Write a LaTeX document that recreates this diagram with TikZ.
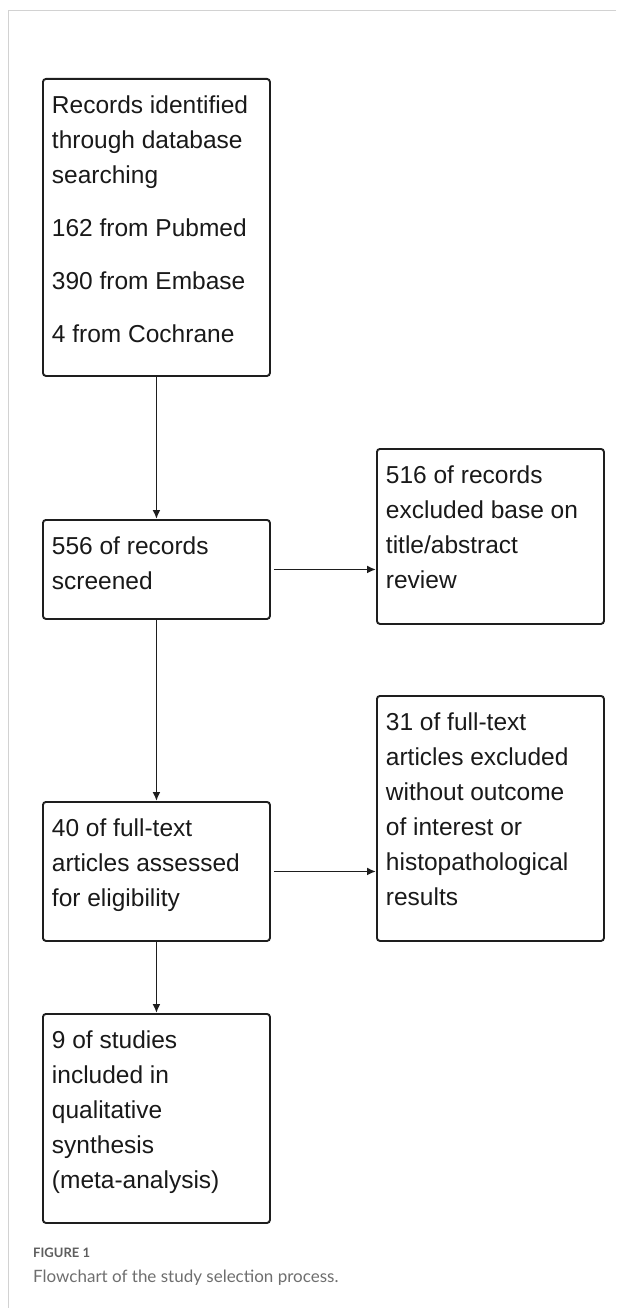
\documentclass[tikz,border=0pt]{standalone}
\usepackage{fontspec}
\setmainfont{Liberation Sans}
\newfontfamily\captionfont{Lato}
\usepackage{tikz}
\usetikzlibrary{arrows.meta}
\usepackage{xcolor}
\definecolor{FlowInk}{HTML}{1E1E1E}
\definecolor{FlowFrame}{HTML}{D2D2D2}
\definecolor{FlowCaption}{HTML}{6E6E6E}
\newcommand{\stagetext}[2]{\parbox[c][#1][t]{209pt}{\raggedright\fontsize{24.5}{35}\selectfont\rule{0pt}{35pt}#2}}

\begin{document}
\begin{tikzpicture}[x=1pt,y=-1pt,>={Latex[length=9pt,width=8pt]},
  stage/.style={draw=FlowInk,line width=1.9pt,rounded corners=3pt,anchor=north west,
    inner xsep=9pt,inner ysep=0pt,text=black!90},
  flow/.style={->,draw=FlowInk,line width=1.9pt}]
  \useasboundingbox (0,0) rectangle (616,1308);
  \draw[FlowFrame,line width=1pt] (616,11) -- (8.5,11) -- (8.5,1308);

  \node[stage] (ident) at (42,78) {\stagetext{297pt}{Records identified\\through database\\searching\\[18pt]162 from Pubmed\\[18pt]390 from Embase\\[18pt]4 from Cochrane}};
  \node[stage] (screen) at (42,519) {\stagetext{99pt}{556 of records\\screened}};
  \node[stage] (dropabs) at (376,448) {\stagetext{175pt}{516 of records\\excluded base on\\title/abstract\\review}};
  \node[stage] (dropfull) at (376,695) {\stagetext{245pt}{31 of full-text\\articles excluded\\without outcome\\of interest or\\histopathological\\results}};
  \node[stage] (elig) at (42,801) {\stagetext{139pt}{40 of full-text\\articles assessed\\for eligibility}};
  \node[stage] (incl) at (42,1013) {\stagetext{209pt}{9 of studies\\included in\\qualitative\\synthesis\\(meta-analysis)}};

  \draw[flow] (ident) -- (screen);
  \draw[flow] (screen) -- (elig);
  \draw[flow] (elig) -- (incl);
  \draw[flow,shorten <=3pt] (screen.east) -- (screen.east -| dropabs.west);
  \draw[flow,shorten <=3pt] (elig.east) -- (elig.east -| dropfull.west);

  \node[anchor=base west,text=FlowCaption!85!black,font=\captionfont\bfseries\fontsize{13}{15}\selectfont,inner sep=0pt] (figlabel) at (33,1257) {FIGURE 1};
  \node[anchor=base west,text=FlowCaption,font=\captionfont\fontsize{17}{20}\selectfont,inner sep=0pt] (figcaption) at (33,1282) {Flowchart of the study selection process.};
\end{tikzpicture}
\end{document}
